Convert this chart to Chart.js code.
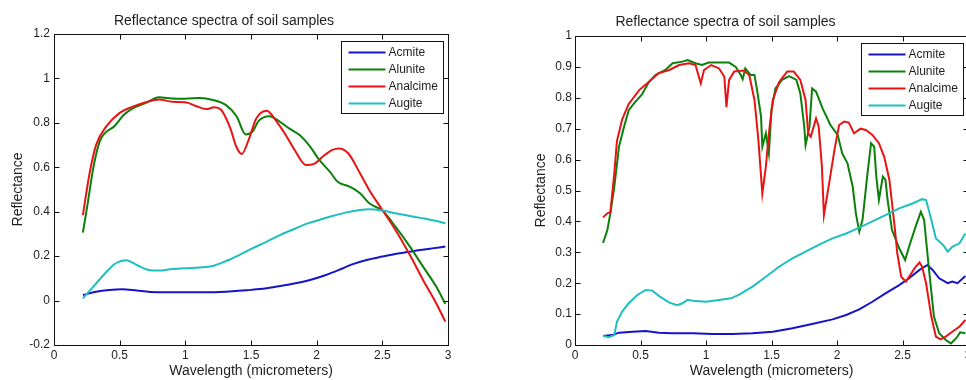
<!DOCTYPE html>
<html>
<head>
<meta charset="utf-8">
<script src="https://cdn.jsdelivr.net/npm/chart.js@4/dist/chart.umd.min.js"></script>
<style>
  html, body { margin: 0; padding: 0; background: #fff; overflow: hidden; width: 966px; height: 380px; }
  canvas { position: absolute; top: 0; }
  #leftChart { left: 0; }
  #rightChart { left: 483px; }
</style>
</head>
<body>
<canvas id="leftChart" width="483" height="380"></canvas>
<canvas id="rightChart" width="500" height="380"></canvas>
<script>
// ---- data: [wavelength, reflectance] ----
var seriesNames = ['Acmite', 'Alunite', 'Analcime', 'Augite'];
var seriesColors = ['#1414c8', '#0b800b', '#e81414', '#1fbfbf'];

// left plot (smoothed spectra)
var acmiteSmooth = [[0.22,0.025],[0.32,0.04],[0.42,0.048],[0.52,0.051],[0.63,0.045],[0.73,0.039],[0.86,0.037],[1.0,0.037],[1.16,0.037],[1.31,0.04],[1.46,0.046],[1.62,0.055],[1.77,0.07],[1.87,0.081],[1.97,0.096],[2.07,0.115],[2.17,0.138],[2.27,0.163],[2.38,0.183],[2.5,0.198],[2.63,0.213],[2.76,0.225],[2.88,0.235],[2.98,0.243]];
var aluniteSmooth = [[0.22,0.306],[0.26,0.45],[0.3,0.6],[0.35,0.72],[0.39,0.755],[0.46,0.785],[0.53,0.835],[0.6,0.865],[0.7,0.89],[0.8,0.915],[0.9,0.91],[1.0,0.909],[1.11,0.912],[1.21,0.903],[1.31,0.88],[1.39,0.83],[1.46,0.748],[1.51,0.76],[1.56,0.81],[1.64,0.83],[1.72,0.805],[1.79,0.775],[1.87,0.745],[1.95,0.693],[2.02,0.633],[2.1,0.58],[2.16,0.535],[2.25,0.513],[2.33,0.483],[2.4,0.438],[2.5,0.405],[2.6,0.333],[2.71,0.243],[2.81,0.153],[2.91,0.063],[2.98,-0.015]];
var analcimeSmooth = [[0.22,0.385],[0.27,0.57],[0.32,0.7],[0.4,0.785],[0.5,0.845],[0.6,0.873],[0.7,0.893],[0.8,0.905],[0.9,0.895],[1.0,0.893],[1.08,0.876],[1.16,0.862],[1.22,0.87],[1.27,0.86],[1.34,0.78],[1.39,0.69],[1.43,0.66],[1.48,0.72],[1.54,0.82],[1.62,0.855],[1.69,0.81],[1.77,0.74],[1.83,0.68],[1.92,0.61],[1.98,0.615],[2.05,0.65],[2.12,0.678],[2.17,0.685],[2.24,0.663],[2.33,0.573],[2.4,0.498],[2.5,0.408],[2.6,0.318],[2.71,0.205],[2.81,0.093],[2.91,-0.012],[2.98,-0.095]];
var augiteSmooth = [[0.22,0.01],[0.3,0.063],[0.4,0.13],[0.47,0.168],[0.55,0.182],[0.63,0.16],[0.72,0.138],[0.8,0.135],[0.9,0.142],[1.0,0.146],[1.11,0.149],[1.21,0.156],[1.31,0.178],[1.41,0.205],[1.51,0.235],[1.62,0.265],[1.72,0.295],[1.82,0.32],[1.92,0.345],[2.02,0.363],[2.12,0.381],[2.22,0.396],[2.33,0.408],[2.4,0.411],[2.5,0.405],[2.6,0.393],[2.71,0.381],[2.81,0.37],[2.91,0.358],[2.98,0.348]];

// right plot (raw spectra)
var acmiteRaw = [[0.214,0.029],[0.285,0.032],[0.336,0.04],[0.44,0.043],[0.54,0.045],[0.64,0.04],[0.745,0.038],[0.9,0.038],[1.05,0.036],[1.2,0.036],[1.355,0.038],[1.51,0.043],[1.66,0.054],[1.81,0.068],[1.966,0.083],[2.07,0.097],[2.17,0.115],[2.27,0.14],[2.37,0.167],[2.475,0.194],[2.55,0.216],[2.63,0.243],[2.69,0.259],[2.73,0.243],[2.78,0.216],[2.845,0.2],[2.88,0.205],[2.92,0.2],[2.98,0.223]];
var aluniteRaw = [[0.214,0.33],[0.247,0.372],[0.27,0.426],[0.3,0.512],[0.336,0.642],[0.375,0.707],[0.41,0.76],[0.46,0.787],[0.51,0.81],[0.565,0.852],[0.616,0.874],[0.69,0.89],[0.745,0.912],[0.82,0.917],[0.86,0.922],[0.92,0.912],[0.97,0.906],[1.02,0.914],[1.1,0.914],[1.176,0.914],[1.227,0.9],[1.265,0.874],[1.28,0.86],[1.3,0.895],[1.34,0.874],[1.37,0.874],[1.39,0.825],[1.42,0.74],[1.43,0.642],[1.457,0.685],[1.48,0.62],[1.5,0.76],[1.53,0.83],[1.58,0.858],[1.635,0.87],[1.69,0.858],[1.72,0.814],[1.75,0.707],[1.76,0.647],[1.79,0.707],[1.81,0.83],[1.84,0.82],[1.89,0.766],[1.95,0.712],[2.005,0.68],[2.04,0.62],[2.08,0.588],[2.12,0.512],[2.144,0.426],[2.17,0.367],[2.195,0.405],[2.233,0.556],[2.26,0.653],[2.284,0.642],[2.3,0.545],[2.32,0.47],[2.35,0.545],[2.37,0.534],[2.386,0.47],[2.42,0.372],[2.475,0.313],[2.52,0.275],[2.55,0.318],[2.6,0.383],[2.64,0.431],[2.665,0.405],[2.7,0.254],[2.74,0.092],[2.78,0.038],[2.83,0.016],[2.87,0.005],[2.91,0.022],[2.94,0.041],[2.98,0.038]];
var analcimeRaw = [[0.214,0.413],[0.247,0.426],[0.27,0.43],[0.3,0.556],[0.32,0.66],[0.36,0.73],[0.41,0.78],[0.49,0.825],[0.565,0.852],[0.64,0.88],[0.72,0.89],[0.795,0.906],[0.87,0.912],[0.92,0.906],[0.96,0.847],[0.985,0.89],[1.04,0.906],[1.1,0.895],[1.14,0.868],[1.156,0.77],[1.176,0.857],[1.215,0.885],[1.29,0.888],[1.33,0.874],[1.37,0.793],[1.4,0.663],[1.43,0.49],[1.457,0.577],[1.48,0.685],[1.51,0.793],[1.56,0.852],[1.62,0.885],[1.67,0.885],[1.72,0.858],[1.76,0.793],[1.78,0.685],[1.8,0.674],[1.84,0.733],[1.86,0.707],[1.885,0.577],[1.9,0.42],[1.94,0.523],[1.98,0.63],[2.016,0.712],[2.055,0.723],[2.09,0.72],[2.13,0.685],[2.18,0.7],[2.22,0.696],[2.27,0.68],[2.32,0.653],[2.36,0.61],[2.4,0.534],[2.44,0.383],[2.46,0.297],[2.49,0.221],[2.526,0.205],[2.56,0.227],[2.6,0.253],[2.63,0.267],[2.65,0.253],[2.68,0.2],[2.72,0.092],[2.755,0.027],[2.79,0.018],[2.83,0.027],[2.88,0.043],[2.934,0.059],[2.98,0.081]];
var augiteRaw = [[0.214,0.029],[0.26,0.025],[0.3,0.032],[0.32,0.075],[0.36,0.108],[0.41,0.135],[0.476,0.162],[0.54,0.178],[0.59,0.176],[0.64,0.159],[0.72,0.137],[0.78,0.129],[0.82,0.135],[0.86,0.146],[0.92,0.142],[1.0,0.14],[1.1,0.146],[1.19,0.151],[1.25,0.162],[1.355,0.189],[1.457,0.221],[1.56,0.254],[1.66,0.28],[1.76,0.302],[1.86,0.324],[1.966,0.345],[2.07,0.361],[2.17,0.38],[2.27,0.4],[2.37,0.42],[2.475,0.442],[2.577,0.458],[2.65,0.472],[2.68,0.469],[2.72,0.405],[2.755,0.345],[2.81,0.324],[2.845,0.302],[2.88,0.318],[2.934,0.329],[2.98,0.361]];

// tick labels
var xTickLabels = ['0', '0.5', '1', '1.5', '2', '2.5', '3'];
var yTickLabelsLeft = ['-0.2', '0', '0.2', '0.4', '0.6', '0.8', '1', '1.2'];
var yTickLabelsRight = ['0', '0.1', '0.2', '0.3', '0.4', '0.5', '0.6', '0.7', '0.8', '0.9', '1'];

var FONT = "'Liberation Sans', Arial, Helvetica, sans-serif";
var TEXT = '#1e1e1e';

function toPoints(arr) {
  return arr.map(function(p) { return {x: p[0], y: p[1]}; });
}

function makeDatasets(list, smooth) {
  return list.map(function(arr, i) {
    return {
      label: seriesNames[i],
      data: toPoints(arr),
      borderColor: seriesColors[i],
      backgroundColor: seriesColors[i],
      borderWidth: 2,
      pointRadius: 0,
      showLine: true,
      fill: false,
      cubicInterpolationMode: smooth ? 'monotone' : 'default',
      tension: 0,
      order: 4 - i
    };
  });
}

// MATLAB style box + inward ticks + legend inside the axes
var matlabBox = {
  id: 'matlabBox',
  afterDraw: function(chart) {
    var ctx = chart.ctx, a = chart.chartArea;
    var xs = chart.scales.x, ys = chart.scales.y;
    var L = Math.round(a.left) + 0.5, R = Math.round(a.right) + 0.5;
    var T = Math.round(a.top) + 0.5, B = Math.round(a.bottom) + 0.5;
    ctx.save();
    ctx.strokeStyle = '#111';
    ctx.lineWidth = 1;
    ctx.strokeRect(L, T, R - L, B - T);
    ctx.beginPath();
    xs.ticks.forEach(function(t) {
      var px = Math.round(xs.getPixelForValue(t.value)) + 0.5;
      if (px - L < 2 || R - px < 2) return;
      ctx.moveTo(px, B); ctx.lineTo(px, B - 5);
      ctx.moveTo(px, T); ctx.lineTo(px, T + 5);
    });
    ys.ticks.forEach(function(t) {
      var py = Math.round(ys.getPixelForValue(t.value)) + 0.5;
      if (py - T < 2 || B - py < 2) return;
      ctx.moveTo(L, py); ctx.lineTo(L + 5, py);
      ctx.moveTo(R, py); ctx.lineTo(R - 5, py);
    });
    ctx.stroke();

    // legend
    var bw = 102, bh = 72;
    var bx = Math.round(a.right - 5 - bw) + 0.5, by = Math.round(a.top + 6.5) + 0.5;
    ctx.fillStyle = '#fff';
    ctx.fillRect(bx, by, bw, bh);
    ctx.strokeStyle = '#111';
    ctx.strokeRect(bx, by, bw, bh);
    ctx.font = '12px ' + FONT;
    ctx.textBaseline = 'middle';
    ctx.textAlign = 'left';
    chart.data.datasets.forEach(function(ds, i) {
      var ry = by + 11 + i * 17;
      ctx.strokeStyle = ds.borderColor;
      ctx.lineWidth = 2;
      ctx.beginPath();
      ctx.moveTo(bx + 7, ry); ctx.lineTo(bx + 44, ry);
      ctx.stroke();
      ctx.fillStyle = TEXT;
      ctx.fillText(ds.label, bx + 47, ry + 0.5);
    });
    ctx.restore();
  }
};

function buildChart(id, datasets, cfg) {
  return new Chart(document.getElementById(id), {
    type: 'scatter',
    data: { datasets: datasets },
    options: {
      responsive: false,
      animation: false,
      events: [],
      layout: { padding: { left: 0, right: cfg.padRight, top: 0, bottom: 0 } },
      plugins: {
        legend: { display: false },
        tooltip: { enabled: false },
        title: {
          display: true,
          text: 'Reflectance spectra of soil samples',
          color: TEXT,
          font: { family: FONT, size: 14, weight: 'normal' },
          padding: { top: cfg.titleTop, bottom: cfg.areaTop - cfg.titleTop - 16.8 }
        }
      },
      scales: {
        x: {
          type: 'linear',
          min: 0, max: 3,
          grid: { display: false, drawTicks: false },
          border: { display: false },
          ticks: {
            stepSize: 0.5,
            padding: 3,
            color: TEXT,
            font: { family: FONT, size: 12 },
            maxRotation: 0,
            callback: function(v, i) { return xTickLabels[i]; }
          },
          title: {
            display: true,
            text: 'Wavelength (micrometers)',
            color: TEXT,
            font: { family: FONT, size: 14 },
            padding: { top: 0, bottom: 0 }
          },
          afterFit: function(s) { s.height = 380 - 345; }
        },
        y: {
          type: 'linear',
          min: cfg.yMin, max: cfg.yMax,
          grid: { display: false, drawTicks: false },
          border: { display: false },
          ticks: {
            stepSize: cfg.yStep,
            padding: cfg.yPad,
            color: TEXT,
            font: { family: FONT, size: 12 },
            callback: function(v, i) { return cfg.yLabels[i]; }
          },
          title: {
            display: true,
            text: 'Reflectance',
            color: TEXT,
            font: { family: FONT, size: 14 },
            padding: { top: cfg.yTitlePad, bottom: 0 }
          },
          afterFit: function(s) { s.width = cfg.areaLeft; }
        }
      }
    },
    plugins: [matlabBox]
  });
}

buildChart('leftChart',
  makeDatasets([acmiteSmooth, aluniteSmooth, analcimeSmooth, augiteSmooth], true),
  { padRight: 35, titleTop: 13, areaTop: 34, areaLeft: 54, yTitlePad: 9.5,
    yMin: -0.2, yMax: 1.2, yStep: 0.2, yPad: 4, yLabels: yTickLabelsLeft });

buildChart('rightChart',
  makeDatasets([acmiteRaw, aluniteRaw, analcimeRaw, augiteRaw], false),
  { padRight: 15, titleTop: 14, areaTop: 36, areaLeft: 92, yTitlePad: 50,
    yMin: 0, yMax: 1, yStep: 0.1, yPad: 3, yLabels: yTickLabelsRight });
</script>
</body>
</html>
